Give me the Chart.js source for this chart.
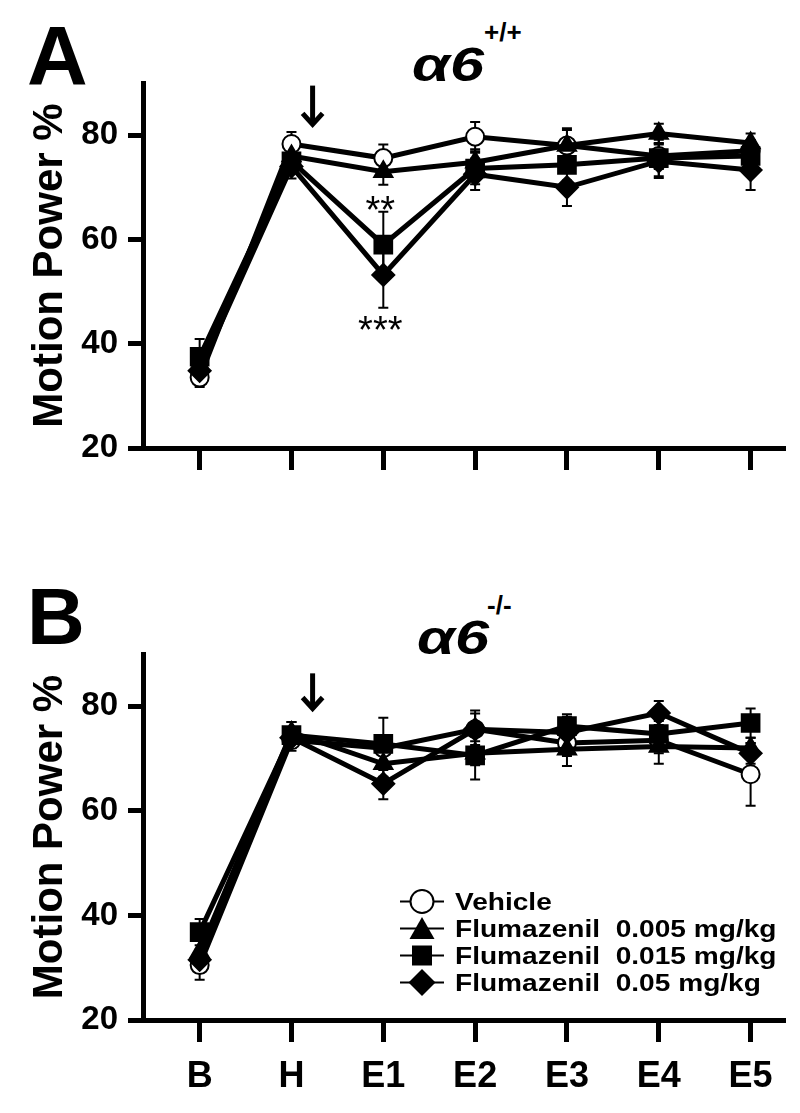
<!DOCTYPE html>
<html>
<head>
<meta charset="utf-8">
<script src="https://cdn.jsdelivr.net/npm/chart.js@4.4.0/dist/chart.umd.min.js"></script>
<style>
  html, body { margin: 0; padding: 0; background: #fff; }
  body { width: 800px; height: 1113px; position: relative; overflow: hidden;
         font-family: "Liberation Sans", Arial, sans-serif; color: #000; }
  .panel { position: absolute; left: 0; width: 800px; }
  #panelA { top: 0; height: 500px; }
  #panelB { top: 570px; height: 543px; }
  .letter { position: absolute; font-weight: bold; line-height: 1; }
  .geno { position: absolute; font-weight: bold; font-style: italic; font-size: 49px; line-height: 1;
          transform: scaleX(1.25); transform-origin: left top; }
  .sup { position: absolute; font-weight: bold; font-size: 26px; line-height: 1; }
  #legend { position: absolute; left: 398px; top: 888px; }
  #legend .row { display: flex; align-items: center; height: 27px; }
  #legend svg { width: 48px; height: 27px; margin-right: 9px; flex: none; }
  #legend span { font-weight: bold; font-size: 24px; white-space: pre; display: inline-block;
                 transform: scaleX(1.17); transform-origin: left center; }
</style>
</head>
<body>
<div class="letter" style="left:27px; top:14px; font-size:84px;">A</div>
<div class="geno" style="left:412px; top:40px;">α6</div>
<div class="sup" style="left:484px; top:19px;">+/+</div>

<div class="letter" style="left:27px; top:577px; font-size:80px;">B</div>
<div class="geno" style="left:417px; top:613px;">α6</div>
<div class="sup" style="left:487px; top:592px;">-/-</div>

<div class="panel" id="panelA"><canvas id="chartA"></canvas></div>
<div class="panel" id="panelB"><canvas id="chartB"></canvas></div>
<div id="legend"></div>

<script>
// time points
const categories = ["B", "H", "E1", "E2", "E3", "E4", "E5"];
const seriesNames = ["Vehicle", "Flumazenil  0.005 mg/kg", "Flumazenil  0.015 mg/kg", "Flumazenil  0.05 mg/kg"];
const yTicks = [20, 40, 60, 80];

// panel A, alpha6 +/+  (means and SEM)
const wtVehicle = [33.5, 78.3, 75.6, 79.7, 78.0, 76.0, 77.0];
const wtLow     = [36.0, 76.0, 73.0, 74.8, 78.0, 80.3, 78.5];
const wtMid     = [37.5, 75.0, 59.0, 73.6, 74.3, 75.6, 76.0];
const wtHigh    = [34.8, 74.0, 53.2, 72.5, 70.0, 75.0, 73.3];
const wtVehicleSem = [1.8, 2.3, 2.6, 2.8, 3.0, 2.5, 2.0];
const wtLowSem     = [2.0, 2.0, 2.5, 2.5, 3.3, 1.9, 1.8];
const wtMidSem     = [3.4, 2.0, 6.3, 3.0, 3.0, 3.5, 3.0];
const wtHighSem    = [2.0, 2.3, 6.3, 3.0, 3.6, 3.2, 3.8];

// panel B, alpha6 -/-
const koVehicle = [30.5, 73.5, 72.0, 75.6, 73.0, 73.5, 67.0];
const koLow     = [33.0, 75.0, 69.0, 71.0, 71.8, 72.3, 72.0];
const koMid     = [36.8, 74.5, 72.8, 70.6, 76.2, 74.7, 76.8];
const koHigh    = [31.5, 74.0, 65.2, 75.6, 75.0, 78.7, 71.0];
const koVehicleSem = [2.8, 2.0, 2.5, 3.6, 2.5, 2.5, 6.0];
const koLowSem     = [2.5, 2.0, 2.5, 2.3, 3.2, 3.3, 2.0];
const koMidSem     = [2.5, 2.5, 5.0, 4.6, 2.3, 2.5, 2.8];
const koHighSem    = [2.0, 2.0, 3.0, 3.0, 3.0, 2.3, 2.0];

// injection arrow (x between H and E1) and significance marks
const arrowAt = 1.23;
const arrowA = [89.5, 81.5];
const arrowB = [86.3, 79.0];
const starsA = [{ x: 2, y: 67.3, text: "**" }, { x: 2, y: 44.3, text: "***" }];

const STYLES = [
  { pointStyle: "circle", radius: 9, fill: "#fff" },
  { pointStyle: "triangle", radius: 10.5, fill: "#000" },
  { pointStyle: "rect", radius: 12.5, fill: "#000" },
  { pointStyle: "rectRot", radius: 11, fill: "#000" }
];

Chart.defaults.font.family = '"Liberation Sans", Arial, sans-serif';
Chart.defaults.color = "#000";

const errorBars = {
  id: "errorBars",
  beforeDatasetsDraw(chart) {
    const { ctx, scales: { x, y } } = chart;
    ctx.save();
    ctx.strokeStyle = "#000";
    ctx.lineWidth = 2;
    chart.data.datasets.forEach((ds) => {
      ds.sem.forEach((s, i) => {
        const px = x.getPixelForValue(i);
        const top = y.getPixelForValue(ds.data[i].y + s);
        const bot = y.getPixelForValue(ds.data[i].y - s);
        ctx.beginPath();
        ctx.moveTo(px, top); ctx.lineTo(px, bot);
        ctx.moveTo(px - 5, top); ctx.lineTo(px + 5, top);
        ctx.moveTo(px - 5, bot); ctx.lineTo(px + 5, bot);
        ctx.stroke();
      });
    });
    ctx.restore();
  }
};

const marks = {
  id: "marks",
  afterDraw(chart, args, opts) {
    const { ctx, scales: { x, y } } = chart;
    ctx.save();
    // arrow
    const ax = x.getPixelForValue(opts.arrowX);
    const a0 = y.getPixelForValue(opts.arrow[0]);
    const a1 = y.getPixelForValue(opts.arrow[1]);
    ctx.strokeStyle = "#000";
    ctx.lineWidth = 5;
    ctx.beginPath();
    ctx.moveTo(ax, a0); ctx.lineTo(ax, a1 - 3);
    ctx.stroke();
    ctx.lineJoin = "miter";
    ctx.beginPath();
    ctx.moveTo(ax - 10, a1 - 14); ctx.lineTo(ax, a1 - 3); ctx.lineTo(ax + 10, a1 - 14);
    ctx.stroke();
    // stars
    ctx.fillStyle = "#000";
    ctx.font = '38px "Liberation Sans", Arial, sans-serif';
    ctx.textAlign = "center";
    ctx.textBaseline = "alphabetic";
    (opts.stars || []).forEach((s) => {
      ctx.fillText(s.text, x.getPixelForValue(s.x) - 3, y.getPixelForValue(s.y) + 0.57 * 38);
    });
    ctx.restore();
  }
};

const makePanel = (canvasId, series, sems, opt) => {
  const datasets = series.map((vals, k) => ({
    label: seriesNames[k],
    data: vals.map((v, i) => ({ x: i, y: v })),
    sem: sems[k],
    borderColor: "#000",
    borderWidth: 5,
    pointStyle: STYLES[k].pointStyle,
    pointRadius: STYLES[k].radius,
    pointBackgroundColor: STYLES[k].fill,
    pointBorderColor: "#000",
    pointBorderWidth: 2,
    tension: 0,
    clip: false,
    order: 4 - k
  }));

  return new Chart(document.getElementById(canvasId), {
    type: "line",
    data: { datasets },
    plugins: [errorBars, marks],
    options: {
      responsive: true,
      maintainAspectRatio: false,
      animation: false,
      layout: { padding: { top: opt.padTop, right: 10, left: 0, bottom: 0 } },
      scales: {
        x: {
          type: "linear",
          min: -0.617,
          max: 6.38,
          afterBuildTicks: (scale) => { scale.ticks = categories.map((c, i) => ({ value: i })); },
          afterFit: (scale) => { scale.height = opt.xHeight; },
          border: { color: "#000", width: 5 },
          grid: { drawOnChartArea: false, drawTicks: true, tickLength: 22, tickWidth: 5, tickColor: "#000" },
          ticks: {
            display: opt.showX,
            padding: 13,
            font: { size: 36, weight: "bold" },
            callback: (v) => categories[v]
          }
        },
        y: {
          min: 20,
          max: 90,
          afterBuildTicks: (scale) => { scale.ticks = yTicks.map((v) => ({ value: v })); },
          afterFit: (scale) => { scale.width = 143; },
          border: { color: "#000", width: 5 },
          grid: { drawOnChartArea: false, drawTicks: true, tickLength: 15, tickWidth: 5, tickColor: "#000" },
          ticks: { padding: 10, font: { size: 33, weight: "bold" } },
          title: {
            display: true,
            text: "Motion Power %",
            font: { size: 42, weight: "bold" },
            padding: { top: 25, bottom: 0 }
          }
        }
      },
      plugins: {
        legend: { display: false },
        tooltip: { enabled: false },
        marks: { arrowX: arrowAt, arrow: opt.arrow, stars: opt.stars }
      }
    }
  });
};

makePanel("chartA",
  [wtVehicle, wtLow, wtMid, wtHigh],
  [wtVehicleSem, wtLowSem, wtMidSem, wtHighSem],
  { padTop: 83, xHeight: 52, showX: false, arrow: arrowA, stars: starsA });

makePanel("chartB",
  [koVehicle, koLow, koMid, koHigh],
  [koVehicleSem, koLowSem, koMidSem, koHighSem],
  { padTop: 84, xHeight: 93, showX: true, arrow: arrowB, stars: [] });

// legend with the same marker shapes
const symbolSvg = [
  '<circle cx="24" cy="13.5" r="11.5" fill="#fff" stroke="#000" stroke-width="2"/>',
  '<polygon points="24,2 36.5,24 11.5,24" fill="#000"/>',
  '<rect x="14" y="3.5" width="20" height="20" fill="#000"/>',
  '<polygon points="24,0 37.5,13.5 24,27 10.5,13.5" fill="#000"/>'
];
document.getElementById("legend").innerHTML = seriesNames.map((name, k) =>
  `<div class="row"><svg viewBox="0 0 48 27"><line x1="2" y1="13.5" x2="46" y2="13.5" stroke="#000" stroke-width="2"/>${symbolSvg[k]}</svg><span>${name}</span></div>`
).join("");
</script>
</body>
</html>
